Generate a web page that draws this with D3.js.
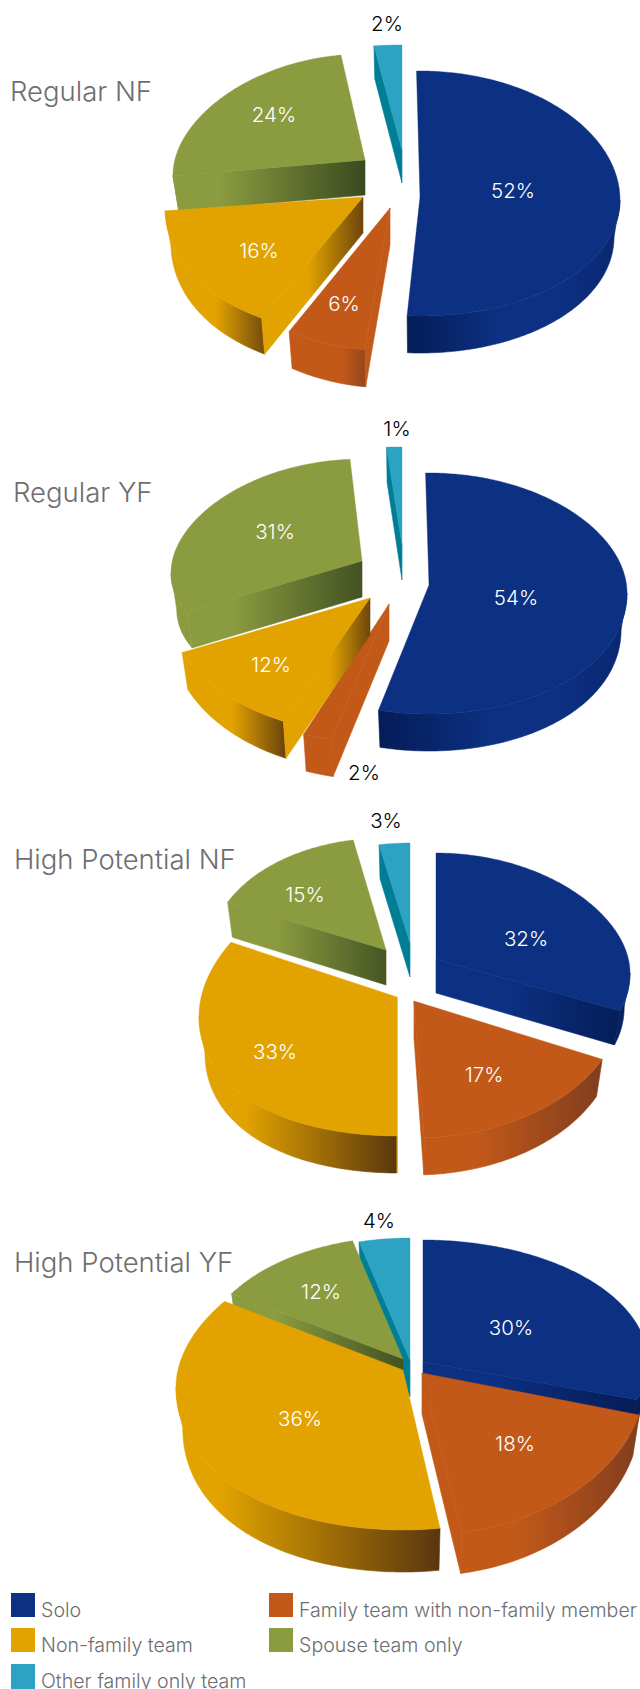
<!DOCTYPE html>
<html><head><meta charset="utf-8">
<script src="https://cdn.jsdelivr.net/npm/d3@7"></script>
<style>html,body{margin:0;padding:0;background:#fff;overflow:hidden}svg{display:block}text{font-family:Inter,"Liberation Sans",sans-serif;font-weight:300}</style>
</head><body><svg id="c" width="640" height="1689"></svg>
<script>
// DATA
const categories = ["Solo","Family team with non-family member","Non-family team","Spouse team only","Other family only team"];
const pieNames = ["Regular NF","Regular YF","High Potential NF","High Potential YF"];
const regularNF = [52,6,16,24,2];
const regularYF = [54,2,12,31,1];
const highPotentialNF = [32,17,33,15,3];
const highPotentialYF = [30,18,36,12,4];
const seriesValues = [regularNF,regularYF,highPotentialNF,highPotentialYF];

// STYLE
const baseColors = ["#0c3082","#c35919","#e2a300","#8b9b3f","#2ca3c2"];
const darkColors = ["#051c56","#7a3a1e","#5a360e","#3a4a1f","#007e96"];
const labelInk = ["#fff","#fff","#fff","#fff","#000"];
const drawOrder = [0,4,3,1,2];
const bottomScale = 0.97;   // perspective: the lower rim is a little narrower

// LAYOUT: one row per slice
// [apexX, apexY, rx, ryTop, ryBottom, sideDrop, depth, startTweak°, endTweak°, outerWallStops, cutWallStops]
const layout = [
 [[420,197,200,126,119,3,37,-1,-3.5,[[405,1],[498,0],[560,0],[620,.45]],[[0,1]]],
  [390,208,200,143,143,0,37,0,1.5,[[341,0],[365,.6]],[[0,0]]],
  [363,197,198,138,138,10,36,2,2,[[216,0],[261,.75]],[[308,0],[363,.85]]],
  [365,160,192,106,106,15,35,3,0,[[0,0]],[[220,0],[365,1]]],
  [402,150,224,105,105,0,33,0,0,[[0,1]],[[0,1]]]],
 [[429,585,198,112,129,8,37,-1,0.4,[[377,1],[490,0],[560,0],[626,.45]],[[0,1]]],
  [389,604,232,140,140,0,37,0,0,[[0,0]],[[0,0]]],
  [370,598,205,136,136,0,37,3.4,1.6,[[232,0],[284,.85]],[[330,0],[370,.85]]],
  [362,561,191,102,102,12,36,1.6,0,[[0,0]],[[232,0],[362,.9]]],
  [402,545,245,98,98,0,35,0,0,[[0,1]],[[0,1]]]],
 [[436,959,194,106,124,14,34,0,-6.7,[[510,0],[620,.7]],[[510,0],[620,.95]]],
  [414,1001,208,137,137,0,37,0,0.8,[[473,0],[602,.9]],[[0,0]]],
  [397,997,198,125,139,19,37,3.6,7.8,[[245,0],[397,1]],[[0,0]]],
  [386,950,175,112,112,0,35,0,0,[[0,0]],[[277,0],[386,.85]]],
  [410,943,165,100,100,0,34,0,0,[[0,1]],[[0,1]]]],
 [[423,1362,225,122,122,0,37,0,0,[[490,0],[640,1]],[[490,0],[640,1]]],
  [422,1373,225,162,162,0,41,-3,-3,[[514,0],[640,.9]],[[0,0]]],
  [403,1370,227,128,160,17,42,-2.2,5.8,[[220,0],[440,1]],[[0,0]]],
  [403,1359,203,122,122,0,37,0,0,[[0,0]],[[277,0],[403,.9]]],
  [410,1360,205,122,122,0,37,0,0,[[0,1]],[[0,1]]]]
];
const labelPos = [
 [[513,191],[344,304],[259,251],[274,115],[387,24]],
 [[516,598],[364,773],[271,665],[275,532],[397,429]],
 [[526,939],[484,1075],[275,1052],[305,895],[386,821]],
 [[511,1328],[515,1444],[300,1419],[321,1292],[379,1221]]
];
const titlePos = [[10,101],[13,502],[14,869],[14,1272]];
const legendPos = [[11,1593],[269,1593],[11,1628],[269,1628],[11,1664]];

const svg = d3.select("#c");
const defs = svg.append("defs");
const pieGen = d3.pie().sort(null).value(d=>d).startAngle(0).endAngle(2*Math.PI);
const line = d3.line();
let gid = 0;

function paint(i, stops){
  const base = d3.interpolateRgb(baseColors[i], darkColors[i]);
  if(stops.length===1) return base(stops[0][1]);
  const x0 = stops[0][0], x1 = stops[stops.length-1][0];
  const id = "g"+(gid++);
  const g = defs.append("linearGradient").attr("id",id).attr("gradientUnits","userSpaceOnUse")
    .attr("x1",x0).attr("x2",x1).attr("y1",0).attr("y2",0);
  stops.forEach(s=>g.append("stop").attr("offset",(s[0]-x0)/(x1-x0)).attr("stop-color",base(s[1])));
  return `url(#${id})`;
}

seriesValues.forEach((vals,p)=>{
  const arcs = pieGen(vals);
  const gp = svg.append("g");
  drawOrder.forEach(i=>{
    const [ax,ay,rx,ryT,ryB,drop,depth,r0,r1,outerStops,cutStops] = layout[p][i];
    const a0 = arcs[i].startAngle + r0*Math.PI/180, a1 = arcs[i].endAngle + r1*Math.PI/180;
    const pt = a=>[ax+rx*Math.sin(a), ay-(Math.cos(a)>0?ryT:ryB)*Math.cos(a)+drop*Math.sin(a)**2];
    const low = a=>{const q=pt(a);return [ax+(q[0]-ax)*bottomScale,q[1]+depth];};
    const sample = (s,e)=>{const n=Math.max(2,Math.ceil(Math.abs(e-s)/0.015));return d3.range(n+1).map(k=>s+(e-s)*k/n);};
    const g = gp.append("g");
    const wall = (d,fill)=>g.append("path").attr("d",d).attr("fill",fill).attr("stroke",fill).attr("stroke-width",0.6);
    // outer wall (only the part of the rim that faces the viewer)
    const w0 = Math.max(a0,Math.PI/2), w1 = Math.min(a1,Math.PI*1.5);
    if(w1>w0){
      const t = sample(w0,w1);
      wall(line(t.map(pt).concat(t.slice().reverse().map(low)))+"Z", paint(i,outerStops));
    }
    // radial cut wall
    const cuts = [];
    if(a0>Math.PI) cuts.push(a0);
    if(a1<Math.PI) cuts.push(a1);
    cuts.forEach(a=>wall(line([[ax,ay],pt(a),low(a),[ax,ay+depth]])+"Z", paint(i,cutStops)));
    // top face
    g.append("path").attr("d",line([[ax,ay]].concat(sample(a0,a1).map(pt)))+"Z")
      .attr("fill",baseColors[i]).attr("stroke",baseColors[i]).attr("stroke-width",0.4);
  });
  // labels
  vals.forEach((v,i)=>{
    gp.append("text").attr("x",labelPos[p][i][0]).attr("y",labelPos[p][i][1]).attr("dy","0.36em")
      .attr("text-anchor","middle").attr("font-size",20.5).attr("fill",labelInk[(p===1&&i===1)?4:i]).text(v+"%");
  });
  svg.append("text").attr("x",titlePos[p][0]).attr("y",titlePos[p][1]).attr("font-size",27.5).attr("fill","#6d6e71").text(pieNames[p]);
});

// legend
categories.forEach((c,i)=>{
  const [x,y] = legendPos[i];
  svg.append("rect").attr("x",x).attr("y",y).attr("width",24).attr("height",i===4?25:24).attr("fill",baseColors[i]);
  svg.append("text").attr("x",x+30).attr("y",y+24).attr("font-size",19.6).attr("fill","#6d6e71").text(c);
});
</script></body></html>
